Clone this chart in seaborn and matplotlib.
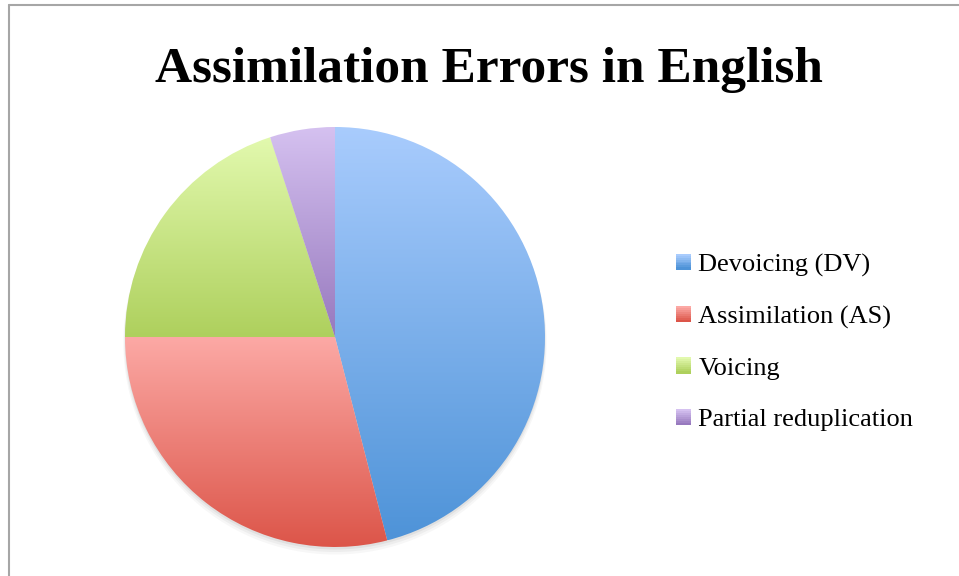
import numpy as np
import matplotlib
matplotlib.use("Agg")
import matplotlib.pyplot as plt
import seaborn as sns
from matplotlib.patches import Rectangle, Circle
from matplotlib.legend_handler import HandlerPatch
from matplotlib.colors import LinearSegmentedColormap
from matplotlib.lines import Line2D

# ---- data ----
title = "Assimilation Errors in English"
categories = ["Devoicing (DV)", "Assimilation (AS)", "Voicing", "Partial reduplication"]
values = [46, 29, 20, 5]
top_colors = ["#A9CCFD", "#FCA9A5", "#E2F9AE", "#D5C1F0"]
bottom_colors = ["#4E93D8", "#DC5549", "#AED05D", "#9779BE"]

sns.set_theme(style="white")
plt.rcParams['font.family'] = ['Liberation Serif', 'DejaVu Serif']
plt.rcParams['text.color'] = 'black'

W, H = 959, 576
fig = plt.figure(figsize=(W / 100, H / 100), dpi=100)
fig.patch.set_facecolor("white")

# pie axes: centre (335,337) px, radius 210 px
cx, cy, r = 335, 337, 210
ax = fig.add_axes([(cx - r) / W, (H - cy - r) / H, 2 * r / W, 2 * r / H])
ax.set_xlim(-1, 1)
ax.set_ylim(-1, 1)
ax.set_aspect("equal")
ax.axis("off")

# subtle shadow
for k, a in enumerate([0.05, 0.04, 0.03]):
    ax.add_patch(Circle((0.0, -0.012 - 0.008 * k), 1.0 + 0.004 * k, color="black",
                        alpha=a, lw=0, zorder=0, clip_on=False))

wedges, _ = ax.pie(values, startangle=90, counterclock=False, radius=1.0,
                   colors=top_colors, wedgeprops=dict(linewidth=0))

grad = np.linspace(0, 1, 256).reshape(-1, 1)
for w, tc, bc in zip(wedges, top_colors, bottom_colors):
    ext = w.get_path().get_extents()
    cmap = LinearSegmentedColormap.from_list("g", [tc, bc])
    im = ax.imshow(grad, cmap=cmap, aspect="auto", origin="upper",
                   extent=[ext.x0, ext.x1, ext.y0, ext.y1], zorder=2,
                   interpolation="bilinear")
    im.set_clip_path(w)
    w.set_facecolor("none")
ax.set_xlim(-1, 1)
ax.set_ylim(-1, 1)


class GradientHandler(HandlerPatch):
    def __init__(self, tc, bc, **kw):
        super().__init__(**kw)
        self.tc, self.bc = tc, bc

    def create_artists(self, legend, orig_handle, xdescent, ydescent, width,
                       height, fontsize, trans):
        cmap = LinearSegmentedColormap.from_list("g", [self.tc, self.bc])
        n = 8
        arts = []
        for i in range(n):
            y0 = -ydescent + height * (1 - (i + 1) / n)
            arts.append(Rectangle((-xdescent, y0), width, height / n + 0.3,
                                  facecolor=cmap(i / (n - 1)), lw=0,
                                  transform=trans))
        return arts


handles = [Rectangle((0, 0), 1, 1, facecolor=t) for t in top_colors]
handler_map = {h: GradientHandler(t, b) for h, t, b in zip(handles, top_colors, bottom_colors)}
fs = 19
leg = fig.legend(handles, categories, handler_map=handler_map,
                 loc="center left", bbox_to_anchor=(676 / W, (H - 342.5) / H),
                 frameon=False, fontsize=fs, borderpad=0, borderaxespad=0,
                 handlelength=0.55, handleheight=0.55, handletextpad=0.3,
                 labelspacing=1.1, labelcolor="black")

fig.text(489 / W, (H - 82) / H, title, ha="center", va="baseline",
         fontsize=37, fontweight="bold", color="black")

# border lines (top and left)
fig.add_artist(Line2D([8.5 / W, 1], [(H - 5) / H, (H - 5) / H], transform=fig.transFigure,
                      color="#A6A6A6", lw=1.5))
fig.add_artist(Line2D([8.5 / W, 8.5 / W], [0, (H - 5) / H], transform=fig.transFigure,
                      color="#A6A6A6", lw=1.5))

fig.savefig("out.png", dpi=100, facecolor="white")
